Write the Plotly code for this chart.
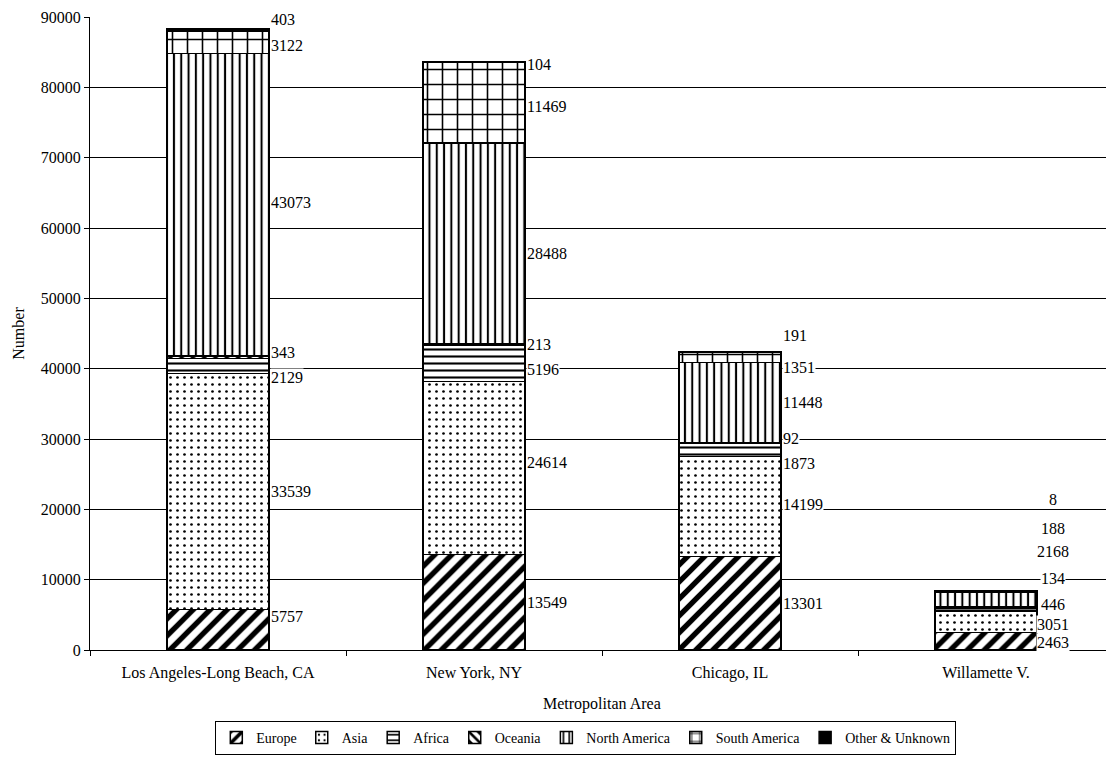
import plotly.graph_objects as go

# Foreign-born population by region of birth, stacked per metropolitan area
areas = ["Los Angeles-Long Beach, CA", "New York, NY", "Chicago, IL", "Willamette V."]
regions = ["Europe", "Asia", "Africa", "Oceania", "North America", "South America", "Other & Unknown"]

europe = [5757, 13549, 13301, 2463]
asia = [33539, 24614, 14199, 3051]
africa = [2129, 5196, 1873, 446]
oceania = [343, 213, 92, 134]
north_america = [43073, 28488, 11448, 2168]
south_america = [3122, 11469, 1351, 188]
other_unknown = [403, 104, 191, 8]

series = [europe, asia, africa, oceania, north_america, south_america, other_unknown]

# Fill pattern per region (shape, spacing in px, solidity)
patterns = {
    "Europe": ("/", 12, 0.45),
    "Asia": (".", 7, 0.12),
    "Africa": ("-", 7, 0.3),
    "Oceania": ("\\", 8, 0.4),
    "North America": ("|", 7.3, 0.28),
    "South America": ("+", 15, 0.2),
    "Other & Unknown": (None, 0, 0),
}

# Vertical label nudges in px (positive = up), to keep labels from colliding
label_nudge = [
    [13, 0, -11, 5, 2, -3, 10],
    [0, 6, -6, 0, -10, -4, -2],
    [0, 2, -13, 5, 0, -10, 17],
    [-1, -3, 5, 29, 48, 63, 91],
]

FONT = "Liberation Serif, Times New Roman, DejaVu Serif, serif"
FS = 16
BAR_W = 0.4

fig = go.Figure()
for name, vals in zip(regions, series):
    shape, size, solid = patterns[name]
    if shape is None:
        marker = dict(color="black", line=dict(color="black", width=1.5))
    else:
        marker = dict(
            color="white",
            line=dict(color="black", width=1.5),
            pattern=dict(shape=shape, size=size, solidity=solid,
                         fgcolor="black", bgcolor="white", fillmode="replace"),
        )
    fig.add_trace(go.Bar(x=areas, y=vals, name=name, marker=marker, width=BAR_W))

# Value labels beside each segment
annotations = []
for i, area in enumerate(areas):
    base = 0
    for j, vals in enumerate(series):
        v = vals[i]
        mid = base + v / 2
        base += v
        last = i == len(areas) - 1
        annotations.append(dict(
            x=i + BAR_W / 2, y=mid, xref="x", yref="y",
            text=str(v), showarrow=False,
            xanchor="center" if last else "left",
            xshift=16 if last else 1,
            yshift=label_nudge[i][j],
            bgcolor="white", borderpad=0,
            font=dict(family=FONT, size=FS, color="black"),
        ))

# Axis title centred under the full category span
annotations.append(dict(
    x=1.5, y=0, xref="x", yref="paper", yshift=-54,
    text="Metropolitan Area", showarrow=False, xanchor="center", yanchor="middle",
    font=dict(family=FONT, size=FS, color="black"),
))

fig.update_layout(
    barmode="stack",
    width=1106, height=757,
    margin=dict(l=90, r=0, t=17, b=107, autoexpand=False),
    paper_bgcolor="white", plot_bgcolor="white",
    font=dict(family=FONT, size=FS, color="black"),
    annotations=annotations,
    showlegend=True,
    legend=dict(
        orientation="h", x=0.488, xanchor="center", y=-0.112, yanchor="top",
        bordercolor="black", borderwidth=1, bgcolor="white",
        font=dict(family=FONT, size=14, color="black"),
        itemwidth=30, tracegroupgap=0, traceorder="normal",
    ),
)

fig.update_xaxes(
    type="category", range=[-0.5, -0.5 + 1016 / 256],
    showline=True, linecolor="black", linewidth=1,
    ticks="outside", tickson="boundaries", ticklen=5, tickcolor="black",
    ticklabelstandoff=8,
    showgrid=False, tickfont=dict(family=FONT, size=FS, color="black"),
)
fig.update_yaxes(
    range=[0, 90000], dtick=10000, tickformat="d",
    showline=True, linecolor="black", linewidth=1,
    ticks="outside", ticklen=5, tickcolor="black",
    showgrid=True, gridcolor="black", gridwidth=1,
    zeroline=False,
    title=dict(text="Number", standoff=12, font=dict(family=FONT, size=FS, color="black")),
    tickfont=dict(family=FONT, size=FS, color="black"),
)

fig.write_html("out.html")
